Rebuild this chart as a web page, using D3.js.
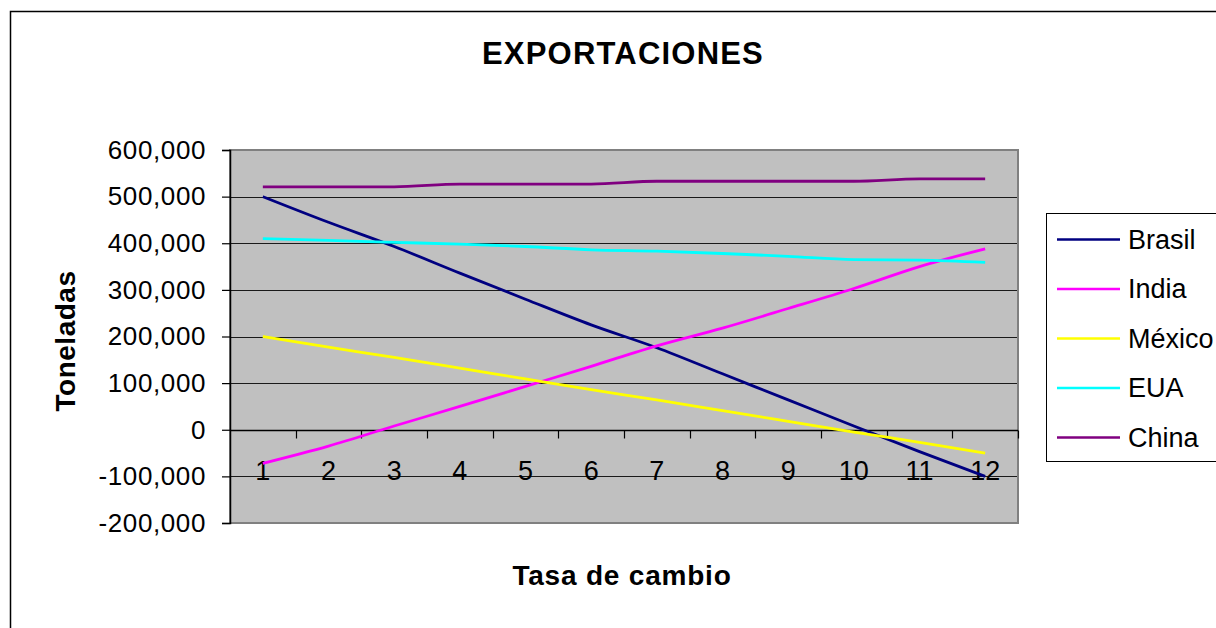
<!DOCTYPE html>
<html>
<head>
<meta charset="utf-8">
<script src="https://cdn.jsdelivr.net/npm/d3@7/dist/d3.min.js"></script>
<style>
  html, body { margin: 0; padding: 0; background: #fff; }
  svg { display: block; font-family: "Liberation Sans", Arial, sans-serif; }
</style>
</head>
<body>
<svg id="chart" width="1216" height="628"></svg>
<script>
// Exchange-rate steps on the category axis
const categories = ["1", "2", "3", "4", "5", "6", "7", "8", "9", "10", "11", "12"];

// Exports (tonnes) per country for each exchange-rate step
const brasil = [500000, 445000, 393000, 336000, 280000, 225000, 176000, 120000, 64000, 8000, -47000, -100000];
const india  = [-72000, -35000, 8000, 50000, 93000, 136000, 180000, 218000, 260000, 303000, 350000, 388000];
const mexico = [200000, 177000, 155000, 132000, 109000, 86000, 64000, 41000, 18000, -5000, -27000, -50000];
const eua    = [410000, 406000, 402000, 398000, 393000, 386000, 383000, 378000, 372000, 365000, 364000, 359000];
const china  = [521000, 521000, 521000, 527000, 527000, 527000, 533000, 533000, 533000, 533000, 538000, 538000];

const seriesNames = ["Brasil", "India", "México", "EUA", "China"];
const yTicks = [-200000, -100000, 0, 100000, 200000, 300000, 400000, 500000, 600000];

const series = [
  { name: seriesNames[0], values: brasil, color: "#000080" },
  { name: seriesNames[1], values: india,  color: "#FF00FF" },
  { name: seriesNames[2], values: mexico, color: "#FFFF00" },
  { name: seriesNames[3], values: eua,    color: "#00FFFF" },
  { name: seriesNames[4], values: china,  color: "#800080" }
];

const svg = d3.select("#chart");

// Outer chart frame
svg.append("rect")
  .attr("x", 10.5).attr("y", 11.5)
  .attr("width", 1400).attr("height", 800)
  .attr("fill", "#fff").attr("stroke", "#000").attr("stroke-width", 1.5);

const plot = { left: 230, top: 150, right: 1018, bottom: 523 };

const x = d3.scaleBand().domain(categories).range([plot.left, plot.right]);
const y = d3.scaleLinear().domain([-200000, 600000]).range([plot.bottom, plot.top]);
const cx = d => x(d) + x.bandwidth() / 2;

// Plot background
svg.append("rect")
  .attr("x", plot.left).attr("y", plot.top)
  .attr("width", plot.right - plot.left).attr("height", plot.bottom - plot.top)
  .attr("fill", "#C0C0C0");

// Horizontal gridlines
svg.append("g")
  .selectAll("line")
  .data(yTicks.filter(v => v !== 600000 && v !== -200000))
  .join("line")
  .attr("x1", plot.left).attr("x2", plot.right)
  .attr("y1", d => Math.round(y(d)) + 0.5).attr("y2", d => Math.round(y(d)) + 0.5)
  .attr("stroke", "#1a1a1a").attr("stroke-width", 1.2);

// Plot border (grey)
svg.append("rect")
  .attr("x", plot.left).attr("y", plot.top)
  .attr("width", plot.right - plot.left).attr("height", plot.bottom - plot.top)
  .attr("fill", "none").attr("stroke", "#808080").attr("stroke-width", 2);

// Y axis (plain hyphen for negatives)
const fmt = d3.format(",");
const yAxis = d3.axisLeft(y)
  .tickValues(yTicks)
  .tickFormat(d => fmt(d).replace("\u2212", "-"))
  .tickSize(8)
  .tickPadding(16);

const yg = svg.append("g")
  .attr("transform", `translate(${plot.left},0)`)
  .call(yAxis);
yg.select(".domain").attr("stroke", "#000").attr("stroke-width", 1.5);
yg.selectAll(".tick line").attr("stroke", "#000").attr("stroke-width", 1.2);
yg.selectAll(".tick text")
  .attr("fill", "#000")
  .style("font-size", "26px")
  .style("letter-spacing", "0.6px");

// X axis at zero, category boundaries as ticks
const y0 = Math.round(y(0)) + 0.5;
const xg = svg.append("g");
xg.append("line")
  .attr("x1", plot.left).attr("x2", plot.right)
  .attr("y1", y0).attr("y2", y0)
  .attr("stroke", "#000").attr("stroke-width", 1.5);
xg.selectAll("line.tick")
  .data(categories)
  .join("line")
  .attr("class", "tick")
  .attr("x1", d => Math.round(x(d) + x.bandwidth()) + 0.5)
  .attr("x2", d => Math.round(x(d) + x.bandwidth()) + 0.5)
  .attr("y1", y0).attr("y2", y0 + 8)
  .attr("stroke", "#000").attr("stroke-width", 1.2);
xg.selectAll("text")
  .data(categories)
  .join("text")
  .attr("x", d => cx(d))
  .attr("y", y0 + 49)
  .attr("text-anchor", "middle")
  .style("font-size", "27px")
  .text(d => d);

// Series lines
const line = d3.line()
  .x((v, i) => cx(categories[i]))
  .y(v => y(v))
  .curve(d3.curveMonotoneX);

svg.append("g")
  .selectAll("path")
  .data(series)
  .join("path")
  .attr("d", s => line(s.values))
  .attr("fill", "none")
  .attr("stroke", s => s.color)
  .attr("stroke-width", 2.8)
  .attr("stroke-linejoin", "round");

// Title
svg.append("text")
  .attr("x", 623).attr("y", 64)
  .attr("text-anchor", "middle")
  .style("font-size", "31px").style("font-weight", "bold")
  .style("letter-spacing", "1.2px")
  .text("EXPORTACIONES");

// Axis titles
svg.append("text")
  .attr("transform", "translate(75,341) rotate(-90)")
  .attr("text-anchor", "middle")
  .style("font-size", "28px").style("font-weight", "bold")
  .style("letter-spacing", "0.5px")
  .text("Toneladas");

svg.append("text")
  .attr("x", 622).attr("y", 585)
  .attr("text-anchor", "middle")
  .style("font-size", "28px").style("font-weight", "bold")
  .style("letter-spacing", "0.8px")
  .text("Tasa de cambio");

// Legend
const legend = svg.append("g");
legend.append("rect")
  .attr("x", 1046.5).attr("y", 213.5)
  .attr("width", 200).attr("height", 248)
  .attr("fill", "#fff").attr("stroke", "#000").attr("stroke-width", 1);

const rows = legend.selectAll("g.row")
  .data(series)
  .join("g")
  .attr("class", "row")
  .attr("transform", (d, i) => `translate(0,${239.5 + i * 49.5})`);
rows.append("line")
  .attr("x1", 1057).attr("x2", 1120)
  .attr("stroke", d => d.color).attr("stroke-width", 2.6);
rows.append("text")
  .attr("x", 1128).attr("y", 0)
  .attr("dy", "0.35em")
  .style("font-size", "27px")
  .text(d => d.name);
</script>
</body>
</html>
